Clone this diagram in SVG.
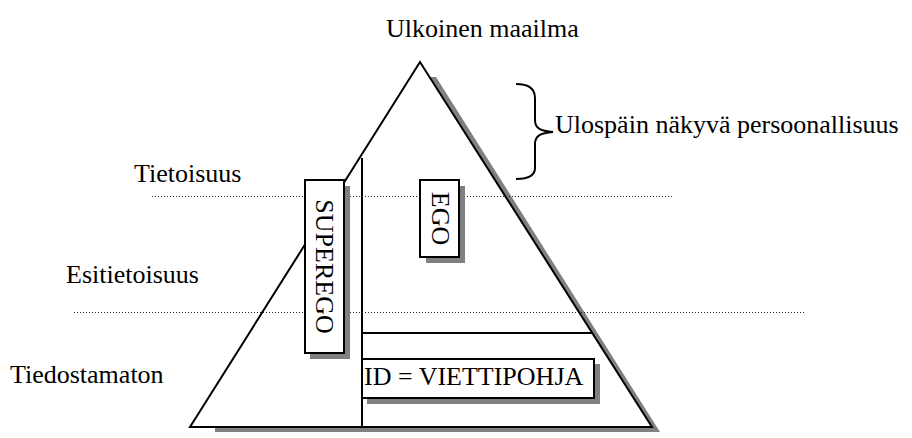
<svg xmlns="http://www.w3.org/2000/svg" width="912" height="438" viewBox="0 0 912 438">
<style>
text{font-family:"Liberation Serif","Times New Roman",serif;font-size:26px;fill:#000}
.shadow{fill:#808080;stroke:none}
.box{fill:#fff;stroke:#000;stroke-width:2}
.line{stroke:#000;stroke-width:2;fill:none}
.dot{stroke:#222;stroke-width:1;stroke-dasharray:1 2;fill:none}
</style>
<rect width="912" height="438" fill="#fff"/>
<g id="pyramid">
<polygon class="shadow" points="430,77 436,77 660,432 215,432 215,427 652,427"/>
<polygon points="420,62 190,427 652,427" fill="#fff" stroke="#000" stroke-width="2" stroke-linejoin="miter"/>
</g>
<g id="connectors">
<line class="line" x1="362" y1="158" x2="362" y2="427"/>
<line class="line" x1="362" y1="333" x2="592" y2="333"/>
<line class="dot" x1="152" y1="196.5" x2="674" y2="196.5"/>
<line class="dot" x1="74" y1="312.5" x2="804" y2="312.5"/>
<path class="line" d="M516,84 C528,84 535,88 535,98 L535,120 C535,128 540,131 553,132 C540,133 535,136 535,144 L535,168 C535,176 528,179 516,179"/>
</g>
<g id="superego">
<rect class="shadow" x="310" y="186" width="40" height="173"/>
<rect class="box" x="305" y="180" width="39" height="173"/>
<text transform="translate(316,266.5) rotate(90)" text-anchor="middle">SUPEREGO</text>
</g>
<g id="ego">
<rect class="shadow" x="426" y="186" width="39" height="77"/>
<rect class="box" x="420" y="180" width="39" height="77"/>
<text transform="translate(432,218.5) rotate(90)" text-anchor="middle">EGO</text>
</g>
<g id="id">
<rect class="shadow" x="367" y="364" width="233" height="40"/>
<rect class="box" x="362" y="359" width="232" height="39"/>
<text x="364" y="385">ID = VIETTIPOHJA</text>
</g>
<g id="label-ulkoinen"><text x="386" y="37">Ulkoinen maailma</text></g>
<g id="label-ulospain"><text x="555" y="133">Ulospäin näkyvä persoonallisuus</text></g>
<g id="label-tietoisuus"><text x="134" y="182">Tietoisuus</text></g>
<g id="label-esitietoisuus"><text x="66" y="283">Esitietoisuus</text></g>
<g id="label-tiedostamaton"><text x="10" y="383">Tiedostamaton</text></g>
</svg>
